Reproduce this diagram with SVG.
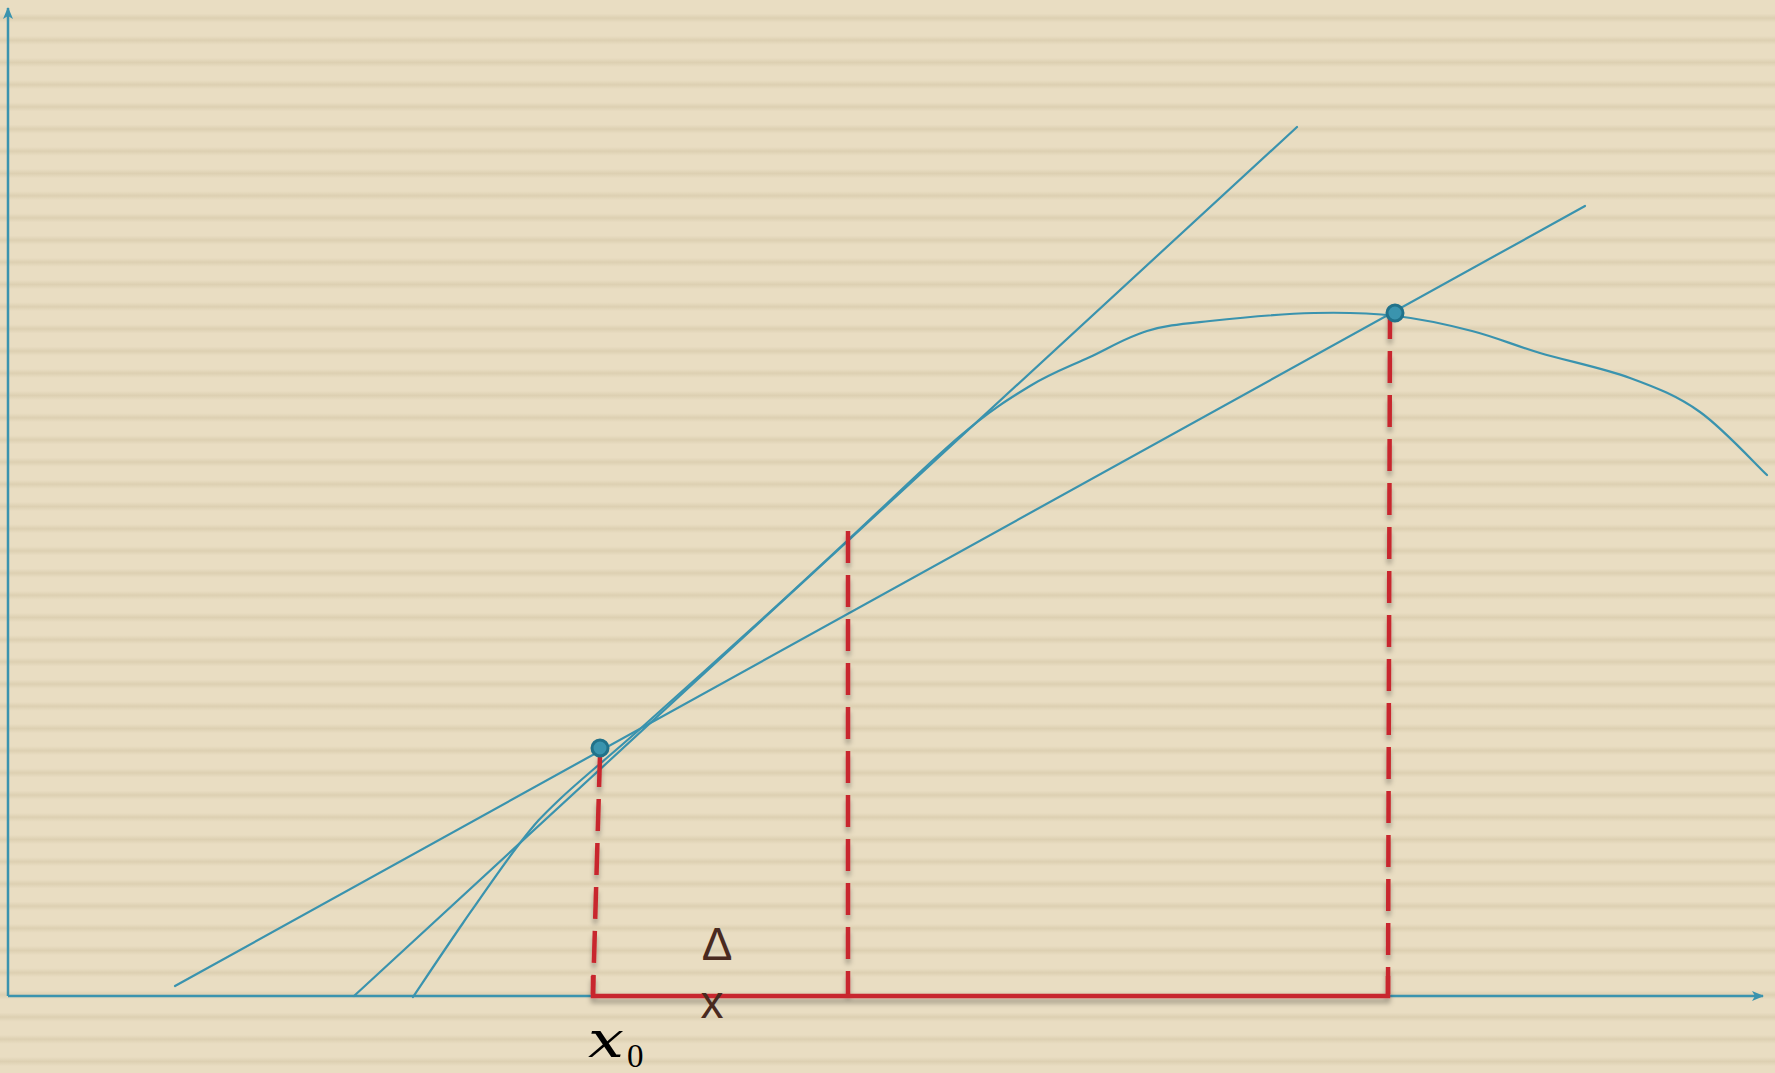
<svg xmlns="http://www.w3.org/2000/svg" width="1775" height="1073" viewBox="0 0 1775 1073">
<style>
.blue{fill:none;stroke:#3A93AE;stroke-width:2.2;stroke-linecap:round}
.axis{fill:none;stroke:#3A93AE;stroke-width:2.5}
.red{fill:none;stroke:#C8272D;stroke-width:4.5}
.dash{stroke-dasharray:32 12}
.dot{fill:#3A94AE;stroke:#21728A;stroke-width:3}
.lbl{font-family:"Liberation Sans","DejaVu Sans",sans-serif;fill:#4A2A1F;font-size:46px}
</style>
<defs>
<linearGradient id="sg" x1="0" y1="0" x2="0" y2="1">
<stop offset="0" stop-color="#E9DDC2"/>
<stop offset="0.3" stop-color="#E9DDC2"/>
<stop offset="0.5" stop-color="#DDD0B2"/>
<stop offset="0.7" stop-color="#E9DDC2"/>
<stop offset="1" stop-color="#E9DDC2"/>
</linearGradient>
<pattern id="stripes" patternUnits="userSpaceOnUse" x="0" y="7" width="40" height="22.2">
<rect width="40" height="22.2" fill="url(#sg)"/>
</pattern>
<marker id="arr" viewBox="0 0 12 10" refX="11" refY="5" markerWidth="12" markerHeight="10" markerUnits="userSpaceOnUse" orient="auto">
<path d="M0,0 L12,5 L0,10 L3,5 Z" fill="#3A93AE"/>
</marker>
<filter id="sh" x="-20%" y="-20%" width="140%" height="140%">
<feDropShadow dx="0" dy="5" stdDeviation="2.5" flood-color="#000" flood-opacity="0.3"/>
</filter>
</defs>
<rect width="1775" height="1073" fill="url(#stripes)"/>

<g id="connectors">
<g id="axes">
<line class="axis" x1="8" y1="996" x2="8" y2="8" marker-end="url(#arr)"/>
<line class="axis" x1="8" y1="996" x2="1763" y2="996" marker-end="url(#arr)"/>
</g>
<line id="secant" class="blue" x1="175" y1="986" x2="1585" y2="206"/>
<line id="tangent" class="blue" x1="354" y1="996" x2="1297" y2="127"/>
<path id="curve" class="blue" d="M413,997 C421.3,984.7 445.2,948.7 463,923 C480.8,897.3 503.8,863.7 520,843 C536.2,822.3 540,818 560,799 C580,780 606.7,758.7 640,729 C673.3,699.3 725.3,652.5 760,621 C794.7,589.5 814.7,570.8 848,540 C881.3,509.2 929.7,461.7 960,436 C990.3,410.3 1008.3,399.2 1030,386 C1051.7,372.8 1070.5,366.2 1090,357 C1109.5,347.8 1127,337 1147,331 C1167,325 1182.2,324 1210,321 C1237.8,318 1283,313.8 1314,313 C1345,312.2 1369.7,313 1396,316 C1422.3,319 1448,324.8 1472,331 C1496,337.2 1513.7,345.2 1540,353 C1566.3,360.8 1603.3,368.2 1630,378 C1656.7,387.8 1677.2,395.8 1700,412 C1722.8,428.2 1755.8,464.5 1767,475"/>
<g id="guides" filter="url(#sh)">
<line class="red dash" x1="600" y1="755" x2="593" y2="994"/>
<line class="red dash" x1="848" y1="531" x2="848" y2="994"/>
<line class="red dash" x1="1390" y1="307" x2="1388" y2="994"/>
<path class="red" d="M593,976 L593,996 L1388,996 L1388,976"/>
</g>
</g>

<g id="point-x0">
<circle class="dot" cx="600" cy="748" r="8"/>
</g>
<g id="point-x1">
<circle class="dot" cx="1395" cy="313" r="8"/>
</g>

<g id="label-delta-x">
<text class="lbl" x="717" y="960" text-anchor="middle">Δ</text>
<text class="lbl" x="712" y="1018" text-anchor="middle">x</text>
</g>
<g id="label-x0">
<text x="588" y="1057" font-family="'DejaVu Serif','Liberation Serif',serif" font-style="italic" font-size="50" textLength="36" lengthAdjust="spacingAndGlyphs" fill="#000">x</text>
<text x="627" y="1067" font-family="'Liberation Serif','DejaVu Serif',serif" font-size="33" fill="#000">0</text>
</g>
</svg>
